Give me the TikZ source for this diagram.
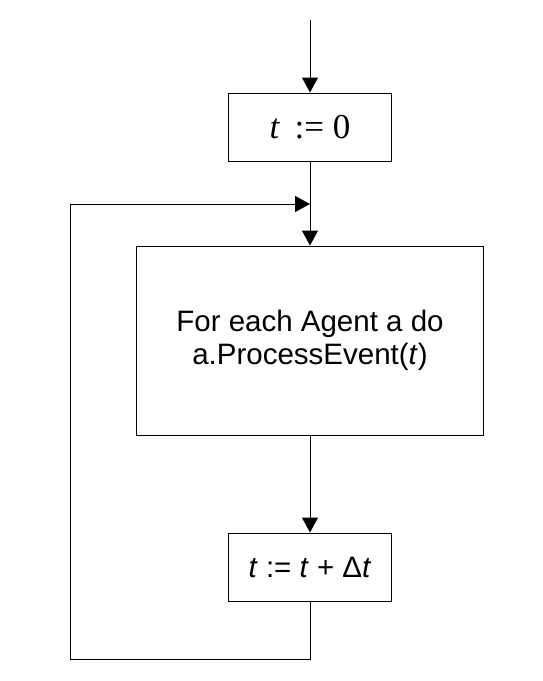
\documentclass[tikz,border=0pt]{standalone}
\usepackage{fontspec}
\setmainfont{Liberation Sans}
\newfontfamily\serifrm{Liberation Serif}
\usetikzlibrary{arrows.meta,positioning}

\begin{document}
\begin{tikzpicture}[x=0.5pt,y=-0.5pt,line width=0.5pt,
  box/.style={draw,rectangle,inner sep=0pt,minimum width=81.5pt,minimum height=34pt},
  flow/.style={-{Triangle[length=7.5pt,width=8pt]}}]
\useasboundingbox (0,0) rectangle (542,681);
\coordinate (start) at (310,20);
\node[box,font=\serifrm\fontsize{17.5}{19}\selectfont] (init) at (310,127)
  {\textit{t}\, := 0};
\coordinate (join) at (310,204);
\node[box,minimum width=173.5pt,minimum height=94.5pt,align=center,
  font=\fontsize{14.75}{16.5}\selectfont] (process) at (310,340.5)
  {For each Agent a do\\a.ProcessEvent(\textit{t})};
\node[box,font=\fontsize{14.75}{16}\selectfont] (update) at (310,567)
  {\textit{t} := \textit{t} + Δ\textit{t}};
\coordinate (corner) at (70,659);
% main flow
\draw[flow] (start) -- (init);
\draw (init) -- (join);
\draw[flow] (join) -- (process);
\draw[flow] (process) -- (update);
% loop back
\draw[flow] (update.south) |- (corner) |- (join);
\end{tikzpicture}
\end{document}
